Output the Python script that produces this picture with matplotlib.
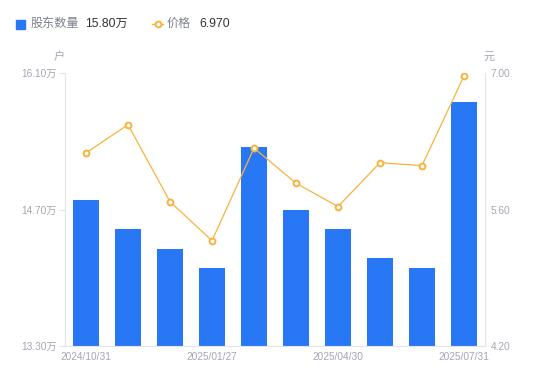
from matplotlib import pyplot as plt
import numpy as np

plt.rcParams['font.family'] = ['Liberation Sans', 'Noto Sans CJK SC']

# data
holders = [14.80, 14.50, 14.30, 14.10, 15.34, 14.69, 14.50, 14.20, 14.10, 15.80]  # 万户
price = [6.18, 6.47, 5.68, 5.28, 6.23, 5.87, 5.63, 6.08, 6.05, 6.97]
dates = ['2024/10/31', '', '', '2025/01/27', '', '', '2025/04/30', '', '', '2025/07/31']
left_ticks = [13.30, 14.70, 16.10]
right_ticks = [4.20, 5.60, 7.00]

BLUE = '#2878f5'
ORANGE = '#f8b33c'
GRAY = '#a3a7b3'
AXIS = '#e3e5ea'

fig = plt.figure(figsize=(5.5, 3.81), dpi=100)
ax = fig.add_axes([65 / 550, 35 / 381, 420 / 550, 273 / 381])
x = np.arange(len(holders))
ax.bar(x, holders, width=0.6, color=BLUE, zorder=2)
ax.set_xlim(-0.5, len(holders) - 0.5)
ax.set_ylim(left_ticks[0], left_ticks[-1])
ax.set_yticks(left_ticks)
ax.set_yticklabels([f'{v:.2f}万' for v in left_ticks])

ax2 = ax.twinx()
ax2.plot(x, price, color=ORANGE, lw=0.9, marker='o', ms=4.2,
         mfc='white', mec=ORANGE, mew=1.4, zorder=3)
ax2.set_ylim(right_ticks[0], right_ticks[-1])
ax2.set_yticks(right_ticks)
ax2.set_yticklabels([f'{v:.2f}' for v in right_ticks])

shown = [i for i, d in enumerate(dates) if d]
ax.set_xticks(shown)
ax.set_xticklabels([dates[i] for i in shown])

for a in (ax, ax2):
    for s in a.spines.values():
        s.set_visible(False)
    a.tick_params(colors=GRAY, labelsize=7.3, length=0)
ax.spines['left'].set_visible(True)
ax.spines['left'].set_color(AXIS)
ax.spines['bottom'].set_visible(True)
ax.spines['bottom'].set_color(AXIS)
ax2.spines['right'].set_visible(True)
ax2.spines['right'].set_color(AXIS)
ax.tick_params(axis='y', length=4, color=AXIS, pad=2)
ax2.tick_params(axis='y', length=0, pad=4)
ax.tick_params(axis='x', pad=4)

fig.text(59 / 550, 1 - 57 / 381, '户', color=GRAY, fontsize=8, ha='center', va='center')
fig.text(489 / 550, 1 - 57 / 381, '元', color=GRAY, fontsize=8, ha='center', va='center')

# legend drawn by hand
ly = 1 - 24 / 381
fig.patches.append(plt.Rectangle((16 / 550, ly - 4.5 / 381), 9 / 550, 9 / 381,
                                 transform=fig.transFigure, color=BLUE))
fig.text(31 / 550, ly, '股东数量', color='#7d818c', fontsize=8.7, va='center')
fig.text(85 / 550, ly, f'{holders[-1]:.2f}万', color='#333333', fontsize=8.7, va='center')
fig.lines.append(plt.Line2D([152 / 550, 163 / 550], [ly, ly], transform=fig.transFigure,
                            color=ORANGE, lw=1))
fig.lines.append(plt.Line2D([157.5 / 550], [ly], transform=fig.transFigure, color=ORANGE,
                            marker='o', ms=4.2, mfc='white', mec=ORANGE, mew=1.4))
fig.text(167 / 550, ly, '价格', color='#7d818c', fontsize=8.7, va='center')
fig.text(199 / 550, ly, f'{price[-1]:.3f}', color='#333333', fontsize=8.7, va='center')

fig.savefig('out.png', dpi=100)
